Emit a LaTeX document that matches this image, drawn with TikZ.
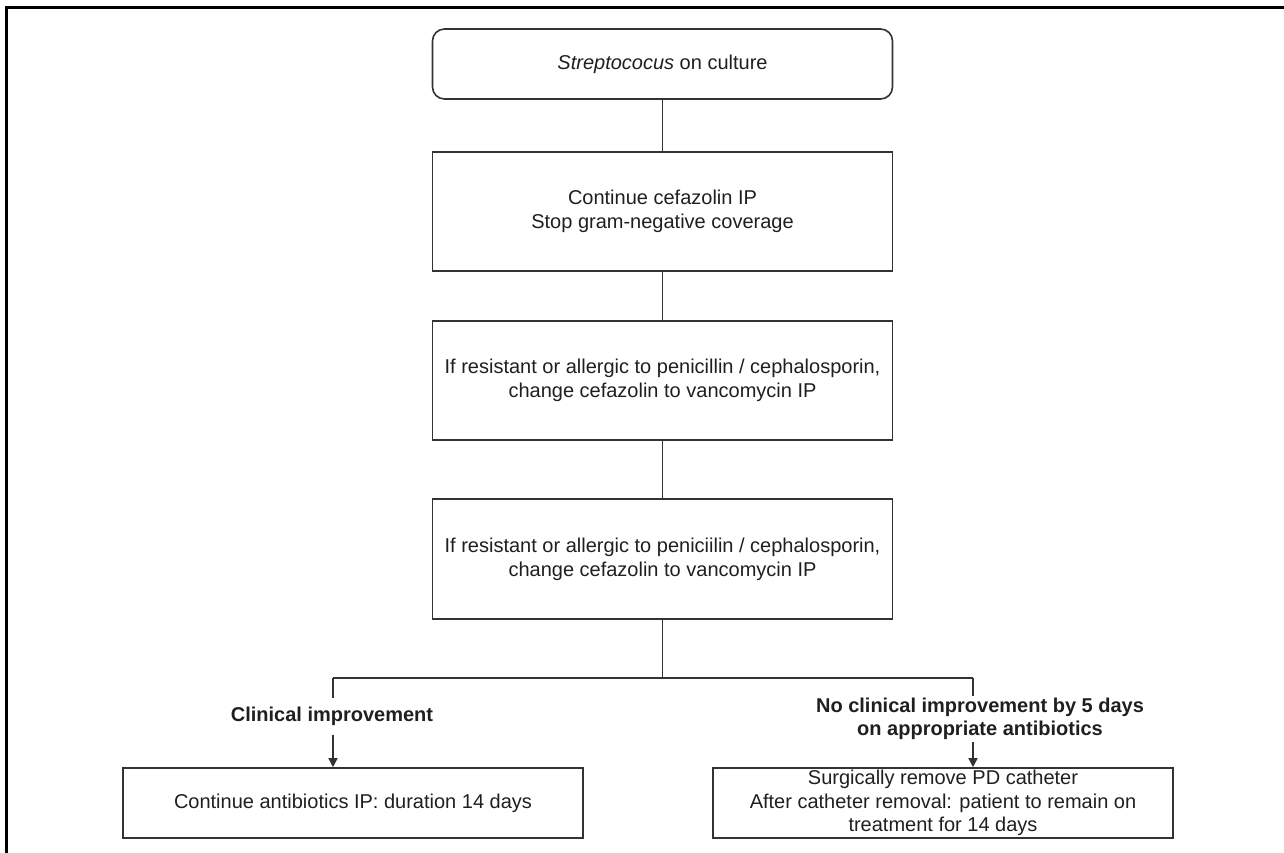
\documentclass[tikz,border=0pt]{standalone}
\usepackage{fontspec}
\setmainfont{Liberation Sans}
\usetikzlibrary{arrows.meta}
\begin{document}
\begin{tikzpicture}[x=1pt,y=-1pt,
  every node/.style={font=\fontsize{20}{24}\selectfont, text=black!88},
  box/.style={draw=black!80, line width=1.6pt, minimum width=460pt, inner sep=0pt, align=center},
  lbl/.style={font=\fontsize{20}{23.5}\selectfont\bfseries, align=center, inner xsep=0pt},
  conn/.style={draw=black!80, line width=1.4pt},
  arr/.style={conn, -{Triangle[width=9pt,length=9pt]}},
  frame/.style={draw=black, line width=3pt}
]
\useasboundingbox (0,0) rectangle (1284,853);
\draw[frame] (6,853) -- (6,8) -- (1284,8);

\node[box, rounded corners=12pt, minimum height=70pt] (top) at (662.5,64) {\textit{Streptococus} on culture};
\node[box, minimum height=119pt] (b2) at (662.5,211.5) {Continue cefazolin IP\\Stop gram-negative coverage};
\node[box, minimum height=119pt] (b3) at (662.5,380.5) {If resistant or allergic to penicillin / cephalosporin,\\change cefazolin to vancomycin IP};
\node[box, minimum height=120pt] (b4) at (662.5,559) {If resistant or allergic to peniciilin / cephalosporin,\\change cefazolin to vancomycin IP};

\coordinate (j) at (662.5,678);
\coordinate (jL) at (333,678);
\coordinate (jR) at (973,678);

\node[lbl, inner ysep=9pt, anchor=base] (lblL) at (332,721.5) {Clinical improvement};
\node[lbl, inner ysep=2pt] (lblR) at (980,719) {No clinical improvement by 5 days\\on appropriate antibiotics};

\node[box, minimum height=70pt] (bL) at (353,803) {Continue antibiotics IP: duration 14 days};
\node[box, minimum height=70pt, font=\fontsize{20}{23.5}\selectfont] (bR) at (943,803) {Surgically remove PD catheter\\After catheter removal: patient to remain on\\treatment for 14 days};

\draw[conn] (top.south) -- (b2.north);
\draw[conn] (b2.south) -- (b3.north);
\draw[conn] (b3.south) -- (b4.north);
\draw[conn] (b4.south) -- (j);
\draw[conn] (jL) -- (jR);
\draw[conn] (jL) -- (jL |- lblL.north);
\draw[conn] (jR) -- (jR |- lblR.north);
\draw[arr] (jL |- lblL.south) -- (jL |- bL.north);
\draw[arr] (jR |- lblR.south) -- (jR |- bR.north);
\end{tikzpicture}
\end{document}
